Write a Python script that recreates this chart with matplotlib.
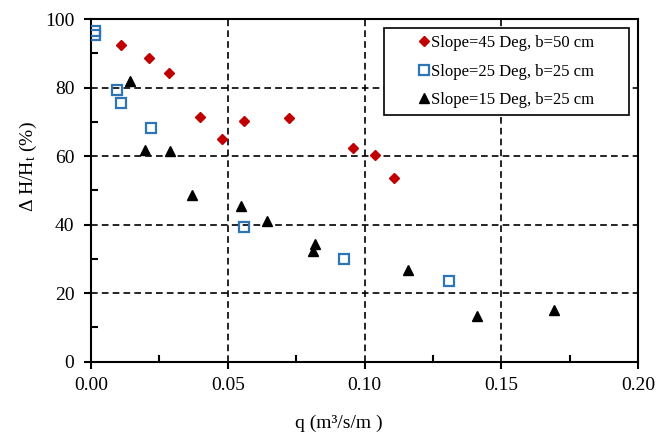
import matplotlib
matplotlib.use("Agg")
import matplotlib.pyplot as plt
from matplotlib.patches import Rectangle
from matplotlib.ticker import MultipleLocator

plt.rcParams['font.family'] = ['Liberation Serif', 'DejaVu Serif']
plt.rcParams['mathtext.fontset'] = 'custom'
plt.rcParams['mathtext.rm'] = 'Liberation Serif'
plt.rcParams['mathtext.it'] = 'Liberation Serif:italic'
plt.rcParams['mathtext.default'] = 'regular'

# Slope=45 Deg, b=50 cm
q45 = [0.0110, 0.0212, 0.0285, 0.0398, 0.0478, 0.0559, 0.0723, 0.0957, 0.1037, 0.1107]
h45 = [92.5, 88.7, 84.2, 71.5, 65.0, 70.2, 71.0, 62.3, 60.3, 53.5]
# Slope=25 Deg, b=25 cm
q25 = [0.0015, 0.0015, 0.0095, 0.0108, 0.0218, 0.0558, 0.0924, 0.1307]
h25 = [96.6, 95.4, 79.3, 75.4, 68.1, 39.4, 29.9, 23.5]
# Slope=15 Deg, b=25 cm
q15 = [0.0142, 0.0197, 0.0287, 0.0368, 0.0550, 0.0642, 0.0818, 0.0812, 0.1159, 0.1409, 0.1692]
h15 = [82.0, 61.8, 61.6, 48.5, 45.3, 41.2, 34.3, 32.4, 26.9, 13.3, 15.2]

labels = ["Slope=45 Deg, b=50 cm", "Slope=25 Deg, b=25 cm", "Slope=15 Deg, b=25 cm"]
xticks = [0.00, 0.05, 0.10, 0.15, 0.20]
yticks = [0, 20, 40, 60, 80, 100]

fig = plt.figure(figsize=(6.57, 4.38), dpi=100)
ax = fig.add_axes([0.1385, 0.1742, 0.8330, 0.7824])

ax.plot(q45, h45, linestyle='none', marker='D', ms=5, color='#C00000', label=labels[0], zorder=3)
ax.plot(q25, h25, linestyle='none', marker='s', ms=7.5, mfc='none', mec='#2E75B6', mew=1.6, label=labels[1], zorder=3)
ax.plot(q15, h15, linestyle='none', marker='^', ms=7, color='black', label=labels[2], zorder=3)

ax.set_xlim(0, 0.20)
ax.set_ylim(0, 100)
ax.set_xticks(xticks)
ax.set_xticklabels([f"{v:.2f}" for v in xticks])
ax.set_yticks(yticks)
ax.xaxis.set_minor_locator(MultipleLocator(0.025))
ax.yaxis.set_minor_locator(MultipleLocator(10))
ax.tick_params(which='major', direction='out', length=5, width=1.5, labelsize=14)
ax.tick_params(axis='y', which='major', pad=7)
ax.tick_params(axis='x', which='major', pad=6)
ax.tick_params(which='minor', direction='in', length=5, width=1.5)
for s in ax.spines.values():
    s.set_linewidth(1.5)
    s.set_color('black')

ax.grid(True, which='major', color='black', linestyle=(0, (4, 2.5)), linewidth=1.2)
ax.set_axisbelow(True)

ax.set_xlabel("q (m\u00b3/s/m )", fontsize=14)
ax.xaxis.set_label_coords(0.453, -0.155)
ax.set_ylabel("\u0394 H/H$_t$ (%)", fontsize=14)
ax.yaxis.set_label_coords(-0.095, 0.569)

# legend box
bx0, bx1 = (384 - 91) / 547.3, (629 - 91) / 547.3
by0, by1 = (361.7 - 115) / 342.7, (361.7 - 28) / 342.7
rect = Rectangle((bx0, by0), bx1 - bx0, by1 - by0, transform=ax.transAxes,
                 facecolor='white', edgecolor='black', linewidth=1.2, zorder=4)
ax.add_patch(rect)
leg = ax.legend(loc='center', bbox_to_anchor=((bx0 + bx1) / 2, (by0 + by1) / 2),
                frameon=False, fontsize=12, handlelength=0.6, handletextpad=0.15,
                labelspacing=0.75, borderpad=0.2)
leg.set_zorder(5)

fig.savefig("out.png", dpi=100)
